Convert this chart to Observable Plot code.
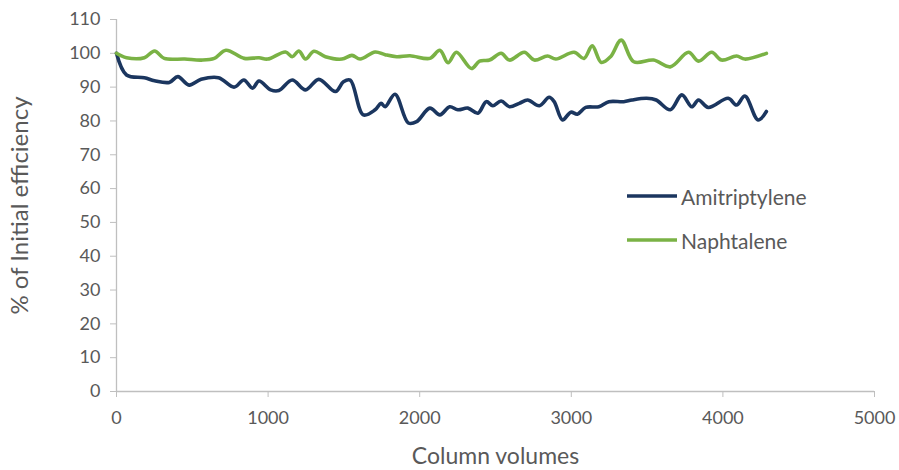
<!DOCTYPE html>
<html>
<head>
<meta charset="utf-8">
<script src="https://cdn.jsdelivr.net/npm/d3@7"></script>
<script src="https://cdn.jsdelivr.net/npm/@observablehq/plot@0.6"></script>
<style>
  html, body { margin: 0; padding: 0; background: #fff; }
  #chart { position: relative; width: 899px; height: 470px; font-family: Lato, "Open Sans", sans-serif; }
  #chart g[aria-label="y-axis label"] text { font-size: 24px; }
  #chart g[aria-label="x-axis label"] text { font-size: 23px; }
  .legend { position: absolute; left: 627px; top: 174px; color: #595959; font-size: 21px; }
  .legend div { display: flex; align-items: center; height: 44px; }
  .legend svg { margin-right: 4px; }
</style>
</head>
<body>
<div id="chart"></div>
<script>
// Column volumes passed vs. % of initial efficiency, per analyte
const amiX = [0, 66, 184, 251, 348, 405, 479, 558, 673, 775, 840, 897, 940, 1017, 1071, 1159, 1247, 1334, 1444, 1497, 1542, 1628, 1706, 1745, 1772, 1837, 1925, 1980, 2067, 2133, 2198, 2252, 2318, 2384, 2439, 2483, 2537, 2592, 2657, 2712, 2789, 2854, 2887, 2942, 2997, 3040, 3095, 3182, 3248, 3346, 3400, 3497, 3560, 3653, 3729, 3795, 3839, 3904, 4035, 4090, 4145, 4232, 4287];
const amiY = [100, 93.6, 92.8, 91.9, 91.4, 93.1, 90.6, 92.3, 92.8, 90.0, 92.1, 89.7, 91.8, 89.2, 89.0, 92.1, 89.2, 92.3, 88.7, 91.6, 92.1, 81.8, 83.3, 85.2, 84.2, 87.9, 79.4, 79.8, 83.8, 81.8, 84.2, 83.3, 83.8, 82.3, 85.7, 84.5, 85.9, 84.2, 85.2, 86.2, 84.5, 87.0, 85.7, 80.3, 82.6, 82.0, 84.0, 84.2, 85.7, 85.7, 86.2, 86.7, 86.2, 83.3, 87.7, 84.2, 86.2, 84.0, 86.7, 84.7, 87.4, 80.3, 82.8];

const napX = [0, 66, 184, 251, 315, 450, 560, 645, 722, 843, 940, 996, 1115, 1159, 1203, 1247, 1302, 1378, 1487, 1553, 1607, 1706, 1772, 1848, 1936, 2067, 2133, 2187, 2242, 2341, 2395, 2461, 2537, 2592, 2690, 2756, 2843, 2898, 3018, 3084, 3138, 3198, 3259, 3329, 3412, 3543, 3653, 3773, 3839, 3926, 3991, 4090, 4145, 4287];
const napY = [100, 98.7, 98.7, 100.7, 98.5, 98.3, 98.0, 98.5, 100.9, 98.5, 98.7, 98.3, 100.4, 99.0, 100.7, 98.3, 100.6, 99.0, 98.3, 99.4, 98.3, 100.4, 99.6, 99.0, 99.3, 98.5, 100.9, 97.2, 100.3, 95.5, 97.7, 98.0, 100.0, 98.0, 100.3, 98.0, 99.2, 98.3, 100.3, 98.5, 102.2, 97.3, 99.0, 103.9, 97.5, 98.0, 96.0, 100.3, 97.7, 100.3, 98.0, 99.2, 98.3, 100.0];

const seriesNames = ["Amitriptylene", "Naphtalene"];
const seriesColors = ["#1b365f", "#7ab245"];
const xTicks = [0, 1000, 2000, 3000, 4000, 5000];
const yTicks = [0, 10, 20, 30, 40, 50, 60, 70, 80, 90, 100, 110];

const rows = [
  ...amiX.map((x, i) => ({x, y: amiY[i], s: seriesNames[0]})),
  ...napX.map((x, i) => ({x, y: napY[i], s: seriesNames[1]}))
];

const axisColor = "#bfbfbf";
const textColor = "#595959";

const chart = Plot.plot({
  width: 899,
  height: 470,
  marginLeft: 116,
  marginRight: 25,
  marginTop: 19,
  marginBottom: 79,
  style: {fontFamily: "Lato, 'Open Sans', sans-serif", color: textColor, background: "#fff"},
  x: {domain: [0, 5000]},
  y: {domain: [0, 110]},
  color: {domain: seriesNames, range: seriesColors},
  marks: [
    Plot.axisY(yTicks, {
      tickSize: 6, stroke: axisColor, tickPadding: 10, fontSize: 18, fill: textColor, tickFormat: d => String(d),
      label: "% of Initial efficiency", labelAnchor: "center", labelOffset: 106, labelArrow: "none"
    }),
    Plot.axisX(xTicks, {
      tickSize: 6, stroke: axisColor, tickPadding: 14, fontSize: 18, fill: textColor, tickFormat: d => String(d),
      label: "Column volumes", labelAnchor: "center", labelOffset: 72, labelArrow: "none"
    }),
    Plot.ruleX([0], {stroke: axisColor, strokeWidth: 1.3}),
    Plot.ruleY([0], {stroke: axisColor, strokeWidth: 1.3}),
    Plot.line(rows, {x: "x", y: "y", z: "s", stroke: "s", strokeWidth: 3.6, curve: "catmull-rom"})
  ]
});

const host = document.getElementById("chart");
host.appendChild(chart);

// Legend drawn inside the plot area
const legend = document.createElement("div");
legend.className = "legend";
seriesNames.forEach((name, i) => {
  const row = document.createElement("div");
  row.innerHTML = `<svg width="50" height="6"><line x1="0" y1="3" x2="50" y2="3" stroke="${seriesColors[i]}" stroke-width="3.6"/></svg><span>${name}</span>`;
  legend.appendChild(row);
});
host.appendChild(legend);
</script>
</body>
</html>
